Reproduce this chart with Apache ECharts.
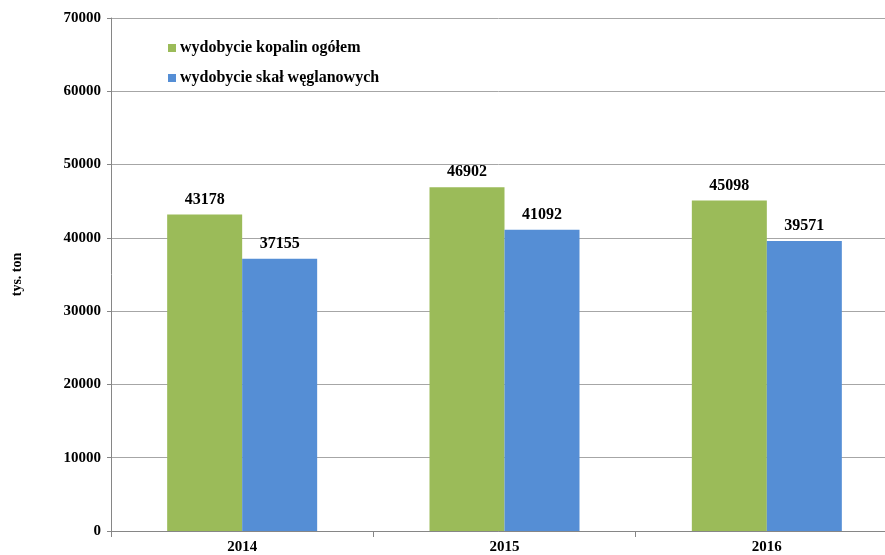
<!DOCTYPE html>
<html>
<head>
<meta charset="utf-8">
<script src="https://cdn.jsdelivr.net/npm/echarts@6/dist/echarts.min.js"></script>
<style>
  html, body { margin: 0; padding: 0; background: #fff; }
  #chart { width: 885px; height: 555px; }
</style>
</head>
<body>
<div id="chart"></div>
<script>
// ── dane ──
const years = ['2014', '2015', '2016'];
const kopalinOgolem = [43178, 46902, 45098];
const skalWeglanowych = [37155, 41092, 39571];
const seriesNames = ['wydobycie kopalin ogółem', 'wydobycie skał węglanowych'];

const font = '"Liberation Serif", "Times New Roman", serif';
const chart = echarts.init(document.getElementById('chart'));

const labelStyle = {
  show: true, position: 'top', distance: 7,
  fontFamily: font, fontSize: 16, fontWeight: 'bold', color: '#000'
};

chart.setOption({
  animation: false,
  color: ['#9BBB59', '#558ED5'],
  legend: {
    orient: 'vertical', left: 163, top: 35,
    itemWidth: 8, itemHeight: 8, itemGap: 14,
    icon: 'rect',
    textStyle: { fontFamily: font, fontSize: 16, fontWeight: 'bold', color: '#000', padding: [0, 0, 0, -1] },
    data: seriesNames
  },
  // wykres przycięty z prawej – siatka wychodzi poza płótno
  grid: { left: 111, width: 787, top: 18, bottom: 24, outerBoundsMode: 'none' },
  xAxis: {
    type: 'category', data: years,
    axisLine: { lineStyle: { color: '#868686' } },
    axisTick: { show: true, length: 6, lineStyle: { color: '#868686' } },
    axisLabel: { fontFamily: font, fontSize: 15, fontWeight: 'bold', color: '#000', margin: 9 }
  },
  yAxis: {
    type: 'value', min: 0, max: 70000, interval: 10000,
    name: 'tys. ton', nameLocation: 'middle', nameGap: 87, nameRotate: 90,
    nameTextStyle: { fontFamily: font, fontSize: 14, fontWeight: 'bold', color: '#000' },
    axisLine: { show: true, lineStyle: { color: '#868686' } },
    axisTick: { show: true, length: 4, lineStyle: { color: '#868686' } },
    axisLabel: {
      fontFamily: font, fontSize: 15, fontWeight: 'bold', color: '#000', margin: 10,
      formatter: v => String(v)
    },
    splitLine: { lineStyle: { color: '#A6A6A6' } }
  },
  series: [
    { name: seriesNames[0], type: 'bar', data: kopalinOgolem, barWidth: 75, barGap: '0%', label: labelStyle },
    { name: seriesNames[1], type: 'bar', data: skalWeglanowych, barWidth: 75, barGap: '0%', label: labelStyle }
  ]
});
</script>
</body>
</html>
